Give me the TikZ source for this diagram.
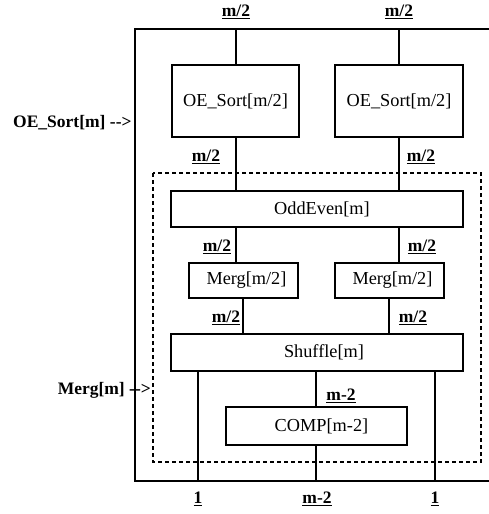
\documentclass[tikz,border=0pt]{standalone}
\usepackage{fontspec}
\setmainfont{Liberation Serif}
\begin{document}
\begin{tikzpicture}[x=1pt,y=-1pt,
  boxst/.style={draw, line width=1.3pt, inner sep=0pt, font=\fontsize{18.3}{21}\selectfont},
  lbl/.style={inner sep=0pt, font=\fontsize{17.5}{20}\selectfont\bfseries},
  wire/.style={line width=1.3pt},
  dashbox/.style={line width=1.3pt, dash pattern=on 4pt off 3pt}]
\useasboundingbox (0,0) rectangle (489,514);
% outer frame
\coordinate (otr) at (489,29);
\coordinate (otl) at (135,29);
\coordinate (obl) at (135,481);
\coordinate (obr) at (489,481);
\draw[wire] (otr) -- (otl) -- (obl) -- (obr);
% dashed Merg[m] frame
\draw[dashbox] (153,173) rectangle (481,462);
% boxes
\node[boxst, minimum width=127pt, minimum height=72pt] (oe1) at (235.5,101) {OE\_Sort[m/2]};
\node[boxst, minimum width=128pt, minimum height=72pt] (oe2) at (399,101) {OE\_Sort[m/2]};
\node[boxst, minimum width=292pt, minimum height=36pt] (odd) at (317,209) {\hspace*{10pt}OddEven[m]};
\node[boxst, minimum width=109pt, minimum height=35pt] (mg1) at (243.5,280.5) {\hspace*{6pt}Merg[m/2]};
\node[boxst, minimum width=109pt, minimum height=35pt] (mg2) at (389.5,280.5) {\hspace*{6pt}Merg[m/2]};
\node[boxst, minimum width=292pt, minimum height=37pt] (shf) at (317,352.5) {\hspace*{14pt}Shuffle[m]};
\node[boxst, minimum width=181pt, minimum height=38pt] (cmp) at (316.5,426) {\hspace*{10pt}COMP[m-2]};
% top inputs
\coordinate (t1) at (236,29);
\coordinate (t2) at (399,29);
\draw[wire] (t1) -- (t1 |- oe1.north);
\draw[wire] (t2) -- (t2 |- oe2.north);
\draw[wire] (t1 |- oe1.south) -- (t1 |- odd.north);
\draw[wire] (t2 |- oe2.south) -- (t2 |- odd.north);
\draw[wire] (t1 |- odd.south) -- (t1 |- mg1.north);
\draw[wire] (t2 |- odd.south) -- (t2 |- mg2.north);
\coordinate (m1) at (243,298);
\coordinate (m2) at (389,298);
\draw[wire] (m1) -- (m1 |- shf.north);
\draw[wire] (m2) -- (m2 |- shf.north);
% bottom outputs
\coordinate (b1) at (198,481);
\coordinate (b2) at (316,481);
\coordinate (b3) at (435,481);
\draw[wire] (b1 |- shf.south) -- (b1);
\draw[wire] (b3 |- shf.south) -- (b3);
\draw[wire] (b2 |- shf.south) -- (b2 |- cmp.north);
\draw[wire] (b2 |- cmp.south) -- (b2);
% labels
\node[lbl] (lt1) at (236,12) {\underline{m/2}};
\node[lbl] (lt2) at (399,12) {\underline{m/2}};
\node[lbl] (lo1) at (206,157) {\underline{m/2}};
\node[lbl] (lo2) at (421,157) {\underline{m/2}};
\node[lbl] (ld1) at (217,247) {\underline{m/2}};
\node[lbl] (ld2) at (422,247) {\underline{m/2}};
\node[lbl] (lm1) at (226,318) {\underline{m/2}};
\node[lbl] (lm2) at (413,318) {\underline{m/2}};
\node[lbl] (lc) at (341,396) {\underline{m-2}};
\node[lbl] (lb1) at (198,499) {\underline{1}};
\node[lbl] (lb2) at (317,499) {\underline{m-2}};
\node[lbl] (lb3) at (435,499) {\underline{1}};
\node[lbl, anchor=west] (loe) at (13,123) {OE\_Sort[m] -{}->};
\node[lbl, anchor=east] (lmg) at (151,390) {Merg[m] -{}->};
\end{tikzpicture}
\end{document}
